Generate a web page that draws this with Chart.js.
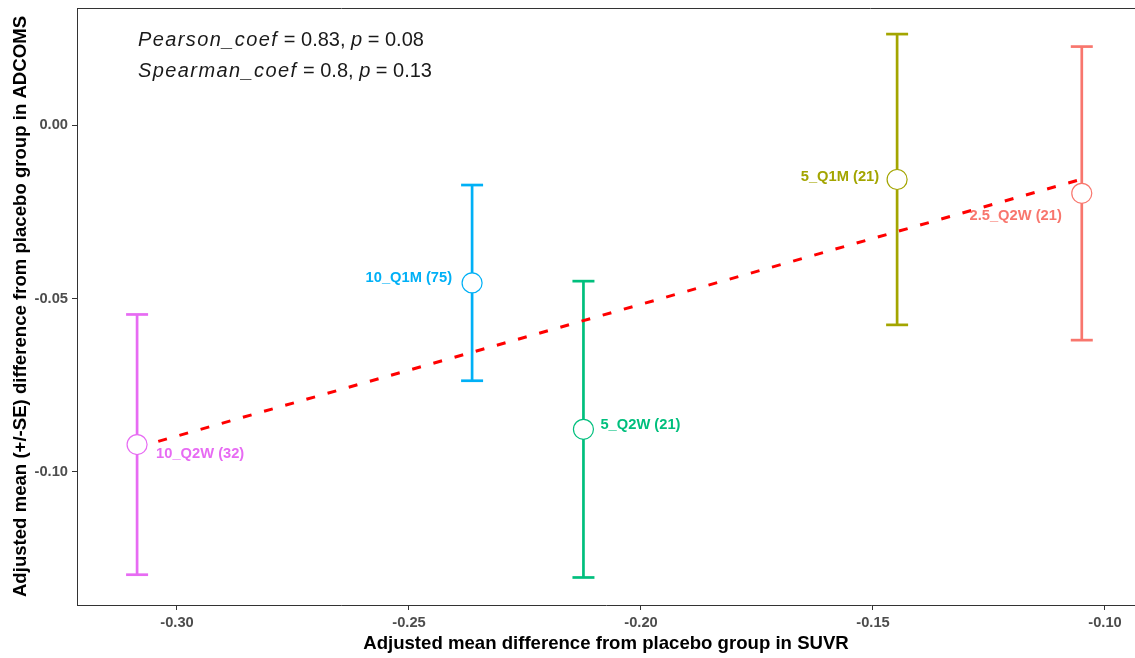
<!DOCTYPE html>
<html>
<head>
<meta charset="utf-8">
<script src="https://cdn.jsdelivr.net/npm/chart.js@4/dist/chart.umd.min.js"></script>
<style>
  html, body { margin: 0; padding: 0; background: #ffffff; }
  #wrap { width: 1135px; height: 658px; }
</style>
</head>
<body>
<div id="wrap"><canvas id="c" width="1135" height="658"></canvas></div>
<script>
// ---- data ----
const groups     = ['2.5_Q2W (21)', '5_Q1M (21)', '5_Q2W (21)', '10_Q1M (75)', '10_Q2W (32)'];
const suvrDiff   = [-0.1050, -0.1448, -0.2124, -0.2364, -0.3086];   // x: adjusted mean diff, SUVR
const adcomsDiff = [-0.0197, -0.0157, -0.0877, -0.0455, -0.0921];   // y: adjusted mean diff, ADCOMS
const adcomsSE   = [0.0423, 0.0419, 0.0427, 0.0282, 0.0375];        // standard errors
const fitX       = [-0.3086, -0.1050];                              // linear fit, endpoints
const fitY       = [-0.0929, -0.0156];
const xTicks     = [-0.30, -0.25, -0.20, -0.15, -0.10];
const yTicks     = [0.00, -0.05, -0.10];
const xRange     = [-0.32155, -0.09353];
const yRange     = [-0.13833, 0.03372];
const pearsonCoef = 0.83, pearsonP = 0.08;
const spearmanCoef = 0.8, spearmanP = 0.13;
const xTitle = 'Adjusted mean difference from placebo group in SUVR';
const yTitle = 'Adjusted mean (+/-SE) difference from placebo group in ADCOMS';

// ---- styling ----
const palette = ['#F8766D', '#A3A500', '#00BF7D', '#00B0F6', '#E76BF3'];
// label placement relative to each point (px): dx, dy, text alignment
const labelPlacement = [
  { dx: -20, dy: 23, align: 'right' },
  { dx: -18, dy: -3, align: 'right' },
  { dx: 17,  dy: -4, align: 'left' },
  { dx: -20, dy: -5, align: 'right' },
  { dx: 19,  dy: 9,  align: 'left' }
];
const FONT = "'Liberation Sans', Arial, Helvetica, sans-serif";
Chart.defaults.font.family = FONT;

// ---- datasets ----
const datasets = [];
groups.forEach((g, i) => {
  datasets.push({
    type: 'line',
    label: g + ' SE',
    data: [
      { x: suvrDiff[i], y: adcomsDiff[i] - adcomsSE[i] },
      { x: suvrDiff[i], y: adcomsDiff[i] + adcomsSE[i] }
    ],
    borderColor: palette[i],
    borderWidth: 2.7,
    pointStyle: 'line',
    pointRadius: 11,
    pointBorderWidth: 2.7,
    pointBorderColor: palette[i],
    showLine: true,
    order: 3
  });
});
datasets.push({
  type: 'line',
  label: 'fit',
  data: fitX.map((x, i) => ({ x: x, y: fitY[i] })),
  borderColor: '#FF0000',
  borderWidth: 3,
  borderDash: [9, 13],
  pointRadius: 0,
  showLine: true,
  order: 2
});
datasets.push({
  type: 'scatter',
  label: 'groups',
  data: suvrDiff.map((x, i) => ({ x: x, y: adcomsDiff[i] })),
  pointRadius: 10,
  pointBorderWidth: 1.2,
  pointBackgroundColor: '#FFFFFF',
  pointBorderColor: palette,
  order: 1
});

// ---- plugins ----
const topFrame = {
  id: 'topFrame',
  beforeDatasetsDraw(chart) {
    const { ctx, chartArea } = chart;
    ctx.save();
    ctx.strokeStyle = '#333333';
    ctx.lineWidth = 1;
    ctx.beginPath();
    ctx.moveTo(chartArea.left, chartArea.top + 0.5);
    ctx.lineTo(chartArea.right, chartArea.top + 0.5);
    ctx.stroke();
    ctx.restore();
  }
};

const pointLabels = {
  id: 'pointLabels',
  afterDatasetsDraw(chart) {
    const { ctx, scales } = chart;
    ctx.save();
    ctx.font = 'bold 14.7px ' + FONT;
    ctx.textBaseline = 'middle';
    groups.forEach((g, i) => {
      const p = labelPlacement[i];
      const px = scales.x.getPixelForValue(suvrDiff[i]);
      const py = scales.y.getPixelForValue(adcomsDiff[i]);
      ctx.fillStyle = palette[i];
      ctx.textAlign = p.align;
      ctx.fillText(g, px + p.dx, py + p.dy);
    });
    ctx.restore();
  }
};

const statsText = {
  id: 'statsText',
  afterDraw(chart) {
    const { ctx, scales } = chart;
    const x0 = scales.x.getPixelForValue(-0.3084);
    const lines = [
      [['Pearson_coef', true], [' = ' + pearsonCoef + ', ', false], ['p', true], [' = ' + pearsonP, false]],
      [['Spearman_coef', true], [' = ' + spearmanCoef + ', ', false], ['p', true], [' = ' + spearmanP, false]]
    ];
    const baseY = [scales.y.getPixelForValue(0.0229), scales.y.getPixelForValue(0.0138)];
    ctx.save();
    ctx.fillStyle = '#1A1A1A';
    ctx.textBaseline = 'alphabetic';
    ctx.textAlign = 'left';
    lines.forEach((segs, li) => {
      let x = x0;
      segs.forEach(([txt, ital]) => {
        ctx.font = (ital ? 'italic ' : '') + '20px ' + FONT;
        ctx.letterSpacing = ital && txt.length > 1 ? '1.4px' : '0px';
        ctx.fillText(txt, x, baseY[li]);
        x += ctx.measureText(txt).width;
      });
    });
    ctx.restore();
  }
};

// axis boxes are sized explicitly so the plot panel spans the full width
function fixX(s) { s.height = 53; s.paddingLeft = 0; s.paddingRight = 0; }
function fixY(s) { s.width = 77; s.paddingTop = 0; s.paddingBottom = 0; }

// ---- chart ----
new Chart(document.getElementById('c'), {
  type: 'scatter',
  data: { datasets: datasets },
  plugins: [topFrame, pointLabels, statsText],
  options: {
    responsive: false,
    animation: false,
    devicePixelRatio: 1,
    events: [],
    layout: { autoPadding: false, padding: { top: 8, left: 0, right: 0, bottom: 0 } },
    plugins: {
      legend: { display: false },
      tooltip: { enabled: false }
    },
    scales: {
      x: {
        type: 'linear',
        min: xRange[0],
        max: xRange[1],
        afterBuildTicks: s => { s.ticks = xTicks.map(v => ({ value: v })); },
        afterFit: fixX,
        ticks: {
          callback: v => Number(v).toFixed(2),
          color: '#4D4D4D',
          font: { size: 14.7, weight: 'bold' },
          padding: 4,
          maxRotation: 0,
          autoSkip: false
        },
        grid: { drawOnChartArea: false, drawTicks: true, tickLength: 5, tickColor: '#333333', tickWidth: 1 },
        border: { display: true, color: '#333333', width: 1 },
        title: {
          display: true, text: xTitle, color: '#000000',
          font: { size: 18.6, weight: 'bold' },
          padding: { top: 0, bottom: 3 }
        }
      },
      y: {
        type: 'linear',
        min: yRange[0],
        max: yRange[1],
        afterBuildTicks: s => { s.ticks = yTicks.map(v => ({ value: v })); },
        afterFit: fixY,
        ticks: {
          callback: v => Number(v).toFixed(2),
          color: '#4D4D4D',
          font: { size: 14.7, weight: 'bold' },
          padding: 4,
          autoSkip: false
        },
        grid: { drawOnChartArea: false, drawTicks: true, tickLength: 5, tickColor: '#333333', tickWidth: 1 },
        border: { display: true, color: '#333333', width: 1 },
        title: {
          display: true, text: yTitle, color: '#000000',
          font: { size: 18.6, weight: 'bold' },
          padding: { top: 10, bottom: 0 }
        }
      }
    }
  }
});
</script>
</body>
</html>
